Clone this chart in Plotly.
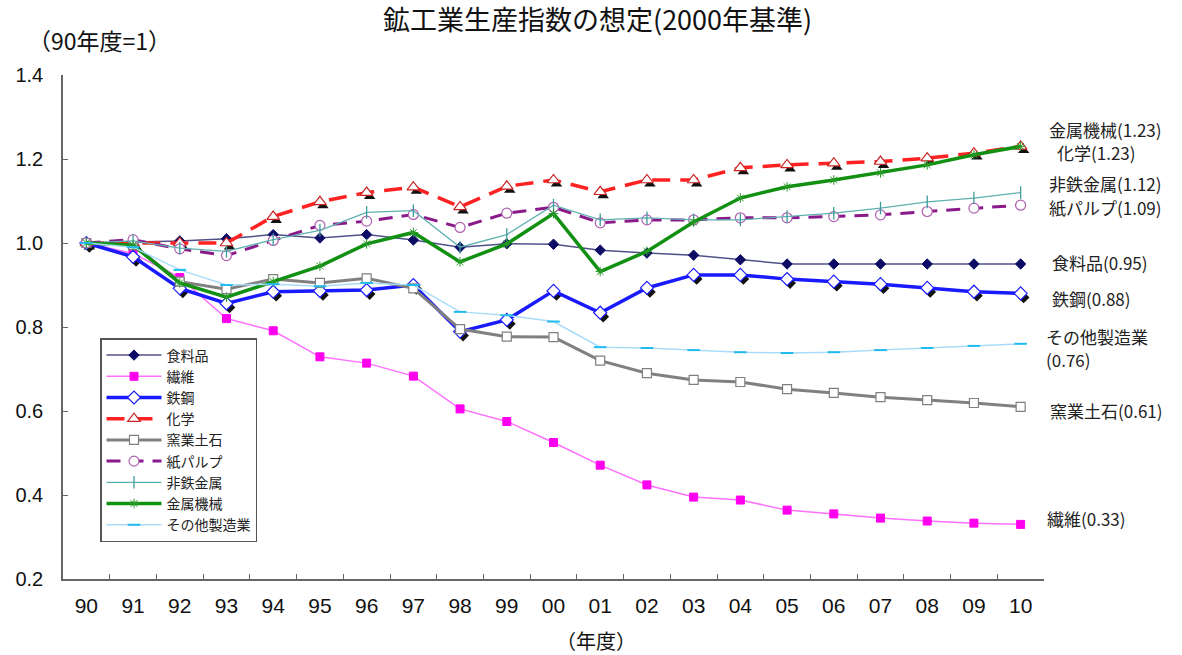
import plotly.graph_objects as go

# Fiscal years (two-digit labels)
years = ["90", "91", "92", "93", "94", "95", "96", "97", "98", "99", "00",
         "01", "02", "03", "04", "05", "06", "07", "08", "09", "10"]

# Production index per industry (FY1990 = 1)
food = [1.00, 1.003, 1.005, 1.01, 1.02, 1.012, 1.02, 1.007, 0.99, 0.998, 0.997,
        0.983, 0.976, 0.971, 0.96, 0.95, 0.95, 0.95, 0.95, 0.95, 0.95]
textile = [1.00, 0.975, 0.918, 0.82, 0.791, 0.729, 0.714, 0.683, 0.605, 0.575, 0.525,
           0.471, 0.424, 0.395, 0.388, 0.364, 0.355, 0.345, 0.338, 0.333, 0.33]
steel = [1.00, 0.967, 0.892, 0.856, 0.884, 0.886, 0.888, 0.9, 0.789, 0.817, 0.886,
         0.834, 0.893, 0.924, 0.924, 0.914, 0.908, 0.902, 0.893, 0.884, 0.88]
chemical = [1.00, 1.00, 1.00, 1.00, 1.063, 1.098, 1.12, 1.133, 1.086, 1.135, 1.15,
            1.122, 1.15, 1.15, 1.179, 1.186, 1.19, 1.194, 1.202, 1.214, 1.23]
ceramics = [1.00, 0.995, 0.908, 0.89, 0.914, 0.905, 0.916, 0.892, 0.795, 0.777, 0.776,
            0.72, 0.69, 0.674, 0.669, 0.652, 0.643, 0.633, 0.626, 0.619, 0.61]
pulp = [1.00, 1.008, 0.986, 0.97, 1.006, 1.042, 1.052, 1.068, 1.037, 1.071, 1.085,
        1.048, 1.055, 1.055, 1.06, 1.06, 1.063, 1.067, 1.075, 1.083, 1.09]
nonferrous = [1.00, 1.005, 0.988, 0.98, 1.008, 1.03, 1.073, 1.077, 0.99, 1.02, 1.09,
              1.055, 1.06, 1.055, 1.055, 1.063, 1.071, 1.083, 1.098, 1.107, 1.12]
machinery = [1.00, 0.995, 0.905, 0.871, 0.908, 0.945, 0.998, 1.025, 0.955, 0.998, 1.07,
             0.932, 0.98, 1.05, 1.107, 1.134, 1.15, 1.167, 1.186, 1.21, 1.23]
other = [1.00, 0.99, 0.936, 0.9, 0.902, 0.897, 0.905, 0.9, 0.836, 0.828, 0.813,
         0.752, 0.75, 0.745, 0.74, 0.738, 0.74, 0.745, 0.75, 0.755, 0.76]

FONT = "Liberation Sans, Arial, Noto Sans CJK JP"
CJK = "Noto Sans CJK JP, Liberation Sans"

# Plot-area geometry in pixels (used for the shadow layer offset)
W, H = 1182, 655
ML, MR, MT, MB = 63, 138, 75, 76
PW, PH = W - ML - MR, H - MT - MB
YMIN, YMAX = 0.2, 1.4
SHX, SHY = 3, 4  # shadow offset in px
ncat = len(years)

series = [
    dict(name="食料品", y=food, line=dict(color="#50508a", width=1.5),
         marker=dict(symbol="diamond", size=8, color="#0c0c66",
                     line=dict(color="#0c0c66", width=1))),
    dict(name="繊維", y=textile, line=dict(color="#ff70ff", width=1.5),
         marker=dict(symbol="square", size=8, color="#ff00ee",
                     line=dict(color="#ff00ee", width=1))),
    dict(name="鉄鋼", y=steel, line=dict(color="#1a1aff", width=3.5),
         marker=dict(symbol="diamond", size=10, color="white",
                     line=dict(color="#1a1aff", width=1.2))),
    dict(name="化学", y=chemical, line=dict(color="#ff2222", width=3.5, dash="18px,10px"),
         marker=dict(symbol="triangle-up", size=11, color="white",
                     line=dict(color="#cc2222", width=1.2))),
    dict(name="窯業土石", y=ceramics, line=dict(color="#808080", width=3),
         marker=dict(symbol="square", size=9, color="white",
                     line=dict(color="#808080", width=1.2))),
    dict(name="紙パルプ", y=pulp, line=dict(color="#8a1a8a", width=3, dash="14px,9px"),
         marker=dict(symbol="circle", size=10, color="white",
                     line=dict(color="#b060b0", width=1.2))),
    dict(name="非鉄金属", y=nonferrous, line=dict(color="#5fb0b0", width=1.3),
         marker=dict(symbol="line-ns", size=9, color="#3c9a9a",
                     line=dict(color="#3c9a9a", width=1.3))),
    dict(name="金属機械", y=machinery, line=dict(color="#129012", width=3.5),
         marker=dict(symbol="asterisk", size=8, color="#2a9a2a",
                     line=dict(color="#2a9a2a", width=1))),
    dict(name="その他製造業", y=other, line=dict(color="#a8dcf8", width=1.5),
         marker=dict(symbol="line-ew", size=9, color="#22bbee",
                     line=dict(color="#22bbee", width=2))),
]

fig = go.Figure()

# Dark drop shadows under the steel and chemical markers (drawn first, on x/y)
for s in series:
    if s["name"] in ("鉄鋼", "化学"):
        fig.add_trace(go.Scatter(
            x=years, y=s["y"], mode="markers", showlegend=False, hoverinfo="skip",
            marker=dict(symbol=s["marker"]["symbol"], size=s["marker"]["size"] - 1,
                        color="#111111"),
            xaxis="x", yaxis="y"))

for s in series:
    fig.add_trace(go.Scatter(
        x=years, y=s["y"], name=s["name"], mode="lines+markers",
        line=s["line"], marker=s["marker"], xaxis="x2", yaxis="y2"))

k = (YMAX - YMIN) / PH
fig.update_layout(
    width=W, height=H,
    margin=dict(l=ML, r=MR, t=MT, b=MB),
    paper_bgcolor="white", plot_bgcolor="rgba(0,0,0,0)",
    font=dict(family=FONT, color="#222"),
    showlegend=True,
    xaxis=dict(type="category", domain=[SHX / PW, 1],
               range=[-0.5, ncat - 0.5 - SHX * ncat / PW], visible=False),
    yaxis=dict(domain=[0, 1 - SHY / PH], range=[YMIN + SHY * k, YMAX], visible=False),
    xaxis2=dict(type="category", domain=[0, 1], anchor="y2",
                range=[-0.5, ncat - 0.5], tickson="boundaries",
                ticks="inside", ticklen=5, tickcolor="#666", tickwidth=1,
                showline=True, linecolor="#666", linewidth=1.5,
                showgrid=False, zeroline=False, ticklabelstandoff=7,
                tickfont=dict(family=FONT, size=21, color="#111")),
    yaxis2=dict(domain=[0, 1], anchor="x2", range=[YMIN, YMAX], dtick=0.2,
                tick0=0.2, tickformat=".1f",
                ticks="inside", ticklen=5, tickcolor="#666", tickwidth=1,
                showline=True, linecolor="#666", linewidth=1.5,
                showgrid=False, zeroline=False, ticklabelstandoff=14,
                tickfont=dict(family=FONT, size=20, color="#111")),
    legend=dict(x=(100 - ML) / PW, y=(H - MB - 338) / PH, xanchor="left", yanchor="top",
                bgcolor="white", bordercolor="#555", borderwidth=1.5,
                font=dict(family=CJK, size=14, color="#222"),
                itemwidth=55, tracegroupgap=0),
)

annotations = [
    dict(text="鉱工業生産指数の想定(2000年基準)", x=597, y=H - 19, size=27),
    dict(text="（90年度=1）", x=99, y=H - 40, size=23),
    dict(text="（年度）", x=596, y=H - 640, size=20),
]
for a in annotations:
    fig.add_annotation(text=a["text"], xref="paper", yref="paper",
                       x=(a["x"] - ML) / PW, y=(a["y"] - MB) / PH,
                       showarrow=False, xanchor="center", yanchor="middle",
                       font=dict(family=CJK, size=a["size"], color="#111"))

# End-of-series labels on the right: (left px, name row px, value row px or None)
end_label_pos = {
    "金属機械": (1047, 130, None), "化学": (1055, 152, None), "非鉄金属": (1047, 183, None),
    "紙パルプ": (1047, 208, None), "食料品": (1050, 262, None), "鉄鋼": (1050, 298, None),
    "その他製造業": (1044, 337, 359), "窯業土石": (1048, 410, None), "繊維": (1045, 518, None),
}
for s in series:
    px, py, py2 = end_label_pos[s["name"]]
    value = f"({s['y'][-1]:.2f})"
    rows = [(f"{s['name']}{value}", py)] if py2 is None else [(s["name"], py), (value, py2)]
    for text, ypx in rows:
        fig.add_annotation(text=text, xref="paper", yref="paper",
                           x=(px - ML) / PW, y=(H - MB - ypx) / PH,
                           showarrow=False, xanchor="left", yanchor="middle", align="left",
                           font=dict(family=CJK, size=17, color="#222"))

fig.write_html("out.html")
